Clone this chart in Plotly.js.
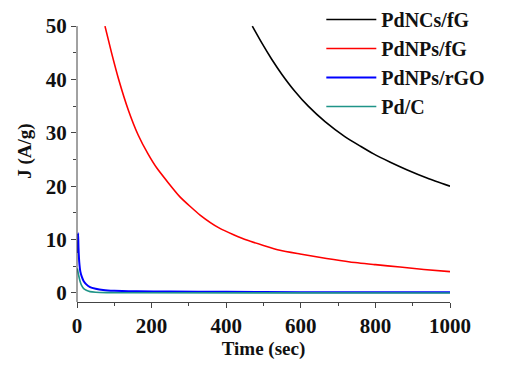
<!DOCTYPE html>
<html>
<head>
<meta charset="utf-8">
<script src="https://cdn.plot.ly/plotly-3.0.1.min.js"></script>
<style>html,body{margin:0;padding:0;background:#fff;}#chart{width:515px;height:372px;}</style>
</head>
<body>
<div id="chart"></div>
<script>
// Series names
const seriesNames = ["PdNCs/fG", "PdNPs/fG", "PdNPs/rGO", "Pd/C"];

// PdNCs/fG (black)
const blackTime = [470, 495, 522, 549, 584, 620, 665, 718, 760, 794, 840, 884, 940, 1000];
const blackJ    = [50, 46.9, 43.8, 41.0, 37.8, 35.0, 32.1, 29.3, 27.5, 26.1, 24.5, 23.1, 21.5, 20.0];

// PdNPs/fG (red)
const redTime = [75, 93, 111, 138, 164, 190, 214, 276, 330, 383, 455, 544, 598, 669, 732, 800, 866, 930, 1000];
const redJ    = [50, 44.9, 40.2, 34.2, 29.6, 26.1, 23.4, 18.0, 14.6, 12.1, 9.9, 8.0, 7.3, 6.45, 5.8, 5.3, 4.85, 4.4, 4.0];

// PdNPs/rGO (blue)
const blueTime = [2, 3, 4, 6, 9, 13, 18, 25, 35, 50, 70, 100, 160, 250, 400, 600, 1000];
const blueJ    = [7.5, 11.2, 8.5, 5.8, 4.0, 3.0, 2.2, 1.6, 1.1, 0.8, 0.55, 0.4, 0.3, 0.25, 0.2, 0.15, 0.12];

// Pd/C (teal)
const tealTime = [1, 3, 6, 9, 13, 18, 25, 35, 50, 80, 150, 1000];
const tealJ    = [4.6, 3.8, 2.8, 2.0, 1.3, 0.8, 0.5, 0.25, 0.12, 0.05, 0.02, 0.0];

// Axis ticks
const xTicks = [0, 200, 400, 600, 800, 1000];
const xMinor = [100, 300, 500, 700, 900];
const yTicks = [0, 10, 20, 30, 40, 50];
const yMinor = [5, 15, 25, 35, 45];

const colors = ["#000000", "#ff0000", "#0000ff", "#1f9488"];
const xs = [blackTime, redTime, blueTime, tealTime];
const ys = [blackJ, redJ, blueJ, tealJ];

const traces = seriesNames.map((n, i) => ({
  x: xs[i], y: ys[i], name: n, type: "scatter", mode: "lines",
  line: {color: colors[i], width: i === 2 ? 2 : 1.6, shape: "spline", smoothing: 0.5}
}));

const fam = "Liberation Serif";
const font = {family: fam, color: "#111", weight: "bold"};
const axisColor = "#444";
const yMin = -1.7, yTop = 54.9;

const layout = {
  width: 515, height: 372,
  margin: {l: 77, r: 65, t: 0, b: 70},
  paper_bgcolor: "#fff", plot_bgcolor: "#fff",
  font: Object.assign({}, font, {size: 19}),
  showlegend: true,
  legend: {
    x: 0.655, y: 1, xanchor: "left", yanchor: "top",
    bgcolor: "rgba(0,0,0,0)", borderwidth: 0,
    font: Object.assign({}, font, {size: 20}),
    itemwidth: 50, tracegroupgap: 0
  },
  xaxis: {
    range: [0, 1000], tickvals: xTicks,
    showgrid: false, zeroline: false, showline: true, linecolor: axisColor, linewidth: 1,
    ticks: "outside", ticklen: 5, tickcolor: axisColor,
    minor: {tickvals: xMinor, ticks: "outside", ticklen: 3, tickcolor: axisColor},
    tickfont: Object.assign({}, font, {size: 21}),
    title: {text: "Time (sec)", font: Object.assign({}, font, {size: 19}), standoff: 2},
    automargin: false
  },
  yaxis: {
    range: [yMin, yTop], tickvals: yTicks,
    showgrid: false, zeroline: false, showline: false,
    ticks: "outside", ticklen: 5, tickcolor: axisColor,
    minor: {tickvals: yMinor, ticks: "outside", ticklen: 3, tickcolor: axisColor},
    tickfont: Object.assign({}, font, {size: 21}),
    title: {text: "J (A/g)", font: Object.assign({}, font, {size: 19}), standoff: 9},
    automargin: false
  },
  shapes: [{
    type: "line", xref: "paper", yref: "y",
    x0: 0, x1: 0, y0: yMin, y1: yTicks[yTicks.length - 1],
    line: {color: axisColor, width: 1}
  }]
};

Plotly.newPlot("chart", traces, layout, {displayModeBar: false, staticPlot: true});
</script>
</body>
</html>
